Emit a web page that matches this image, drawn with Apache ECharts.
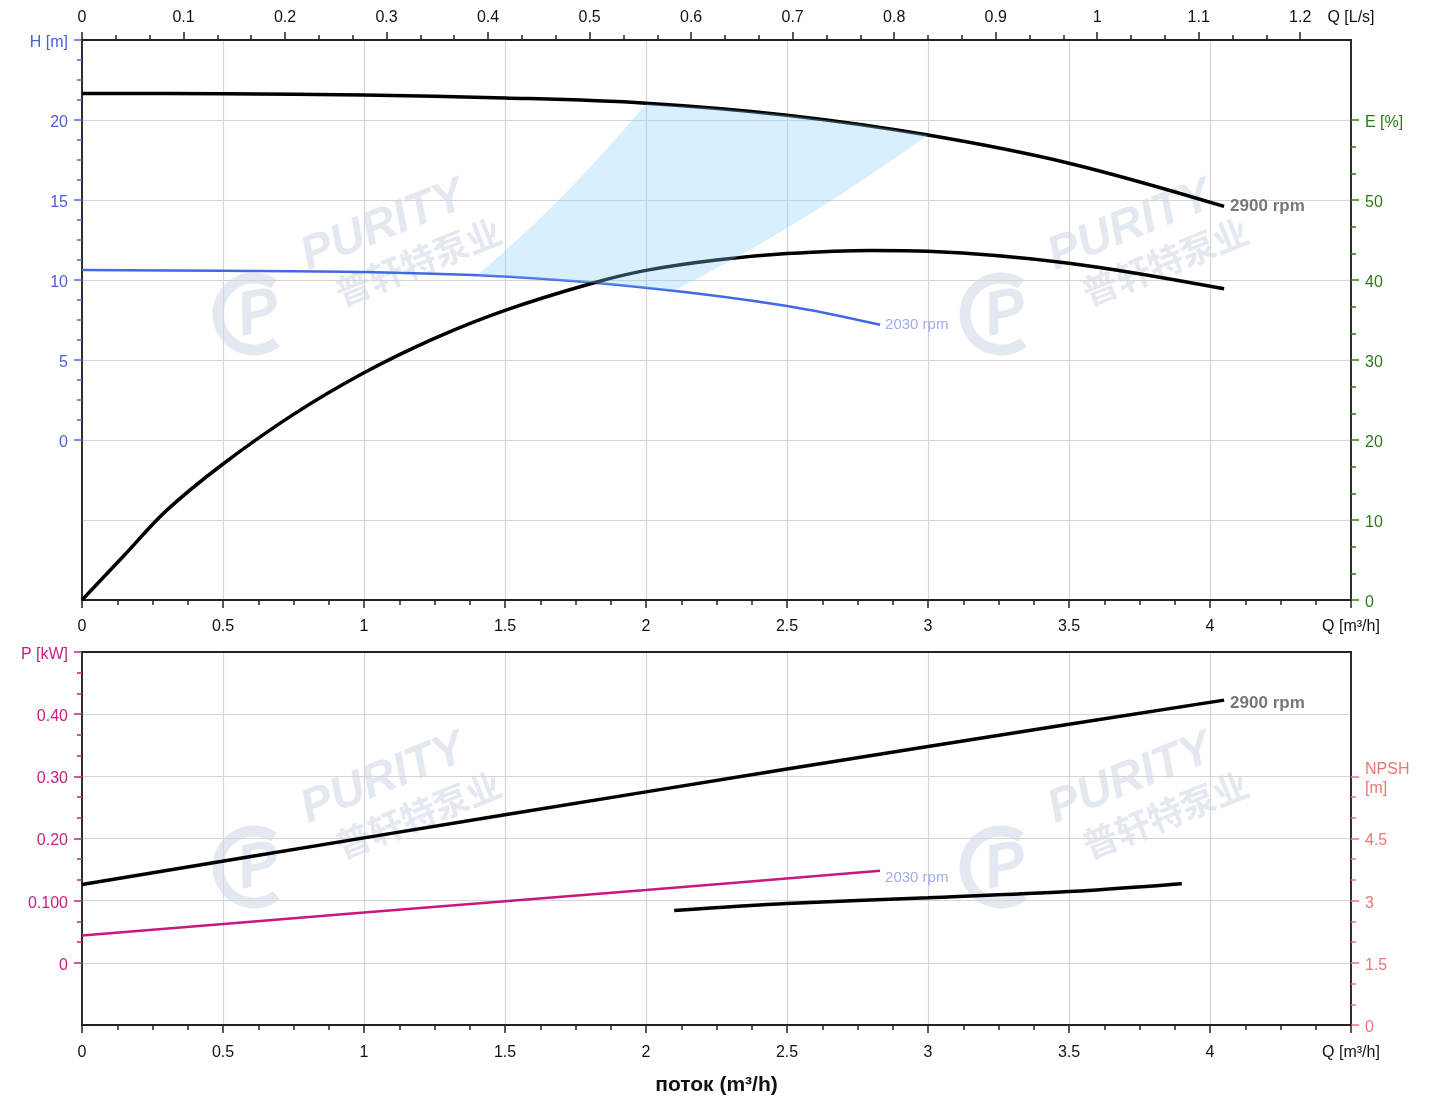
<!DOCTYPE html>
<html>
<head>
<meta charset="utf-8">
<script src="https://cdn.jsdelivr.net/npm/echarts@6/dist/echarts.min.js"></script>
<style>html,body{margin:0;padding:0;background:#fff;}#c{width:1429px;height:1101px;}</style>
</head>
<body>
<div id="c"></div>
<script>
// ---------- data ----------
const qHead2900 = [0, 0.5, 1, 1.5, 2, 2.5, 3, 3.5, 4.05];
const head2900  = [21.66, 21.64, 21.56, 21.38, 21.05, 20.3, 19.06, 17.3, 14.6];

const qHead2030 = [0, 0.5, 1, 1.5, 2, 2.5, 2.83];
const head2030  = [10.62, 10.58, 10.5, 10.22, 9.52, 8.38, 7.2];

const qEff2900 = [0, 0.15, 0.3, 0.5, 0.75, 1, 1.25, 1.5, 1.8, 2, 2.25, 2.5, 2.8, 3, 3.5, 4.05];
const eff2900  = [0, 5.6, 11.2, 17.0, 23.2, 28.4, 32.7, 36.2, 39.5, 41.2, 42.5, 43.3, 43.7, 43.6, 42.1, 38.9];

const qPower2900 = [0, 1, 2, 3, 4.05];
const power2900  = [0.126, 0.201, 0.275, 0.348, 0.4226];

const qPower2030 = [0, 1, 2, 2.83];
const power2030  = [0.044, 0.081, 0.117, 0.148];

const qNpsh = [2.1, 2.5, 3, 3.5, 3.9];
const npsh  = [2.76, 2.93, 3.07, 3.22, 3.41];

// operating range (shaded), Q [m3/h] / H [m]
const shadeQ = [1.4, 1.5, 1.6, 1.7, 1.8, 1.9, 2.0, 2.25, 2.5, 2.75, 3.0, 2.9, 2.8, 2.7, 2.6, 2.5, 2.4, 2.3, 2.2, 2.1, 2.0, 1.9, 1.8, 1.7, 1.6, 1.5];
const shadeH = [10.29, 11.81, 13.44, 15.17, 17.01, 18.95, 21.0, 20.72, 20.3, 19.75, 19.06, 17.83, 16.62, 15.45, 14.33, 13.25, 12.21, 11.21, 10.26, 9.35, 9.52, 9.68, 9.83, 9.97, 10.1, 10.22];

// tick labels
const lsTickVals   = [0, 0.1, 0.2, 0.3, 0.4, 0.5, 0.6, 0.7, 0.8, 0.9, 1, 1.1, 1.2, 1.25];
const lsTickLabels = ['0','0.1','0.2','0.3','0.4','0.5','0.6','0.7','0.8','0.9','1','1.1','1.2','Q [L/s]'];
const hTickVals    = [0, 5, 10, 15, 20, 25];
const hTickLabels  = ['0','5','10','15','20','H [m]'];
const eTickVals    = [0, 10, 20, 30, 40, 50, 60];
const eTickLabels  = ['0','10','20','30','40','50','E [%]'];
const pTickVals    = [0, 0.1, 0.2, 0.3, 0.4, 0.5];
const pTickLabels  = ['0','0.100','0.20','0.30','0.40','P [kW]'];
const nTickVals    = [0, 1.5, 3, 4.5, 6];
const nTickLabels  = ['0','1.5','3','4.5','NPSH\n[m]'];

// ---------- helpers ----------
function pairs(xs, ys){ return xs.map((x,i)=>[x, ys[i]]); }
function lookup(vals, labels){
  return v => { const i = vals.findIndex(t => Math.abs(t - v) < 1e-6); return i >= 0 ? labels[i] : ''; };
}
function lookupRich(vals, labels){
  const f = lookup(vals, labels);
  return v => f(v).split('\n').map(s => '{a|' + s + '}').join('\n');
}
function minors(lo, hi, step, majors){
  const out = [];
  const n = Math.round((hi - lo) / step);
  for (let i = 0; i <= n; i++) {
    const v = +(lo + i * step).toFixed(6);
    if (!majors.some(m => Math.abs(m - v) < 1e-6)) out.push(v);
  }
  return out;
}
const lsMajor = lsTickVals.slice(0, 13);
const lsMinor = minors(0, 1.2, 1/30, lsMajor);
const hMinor = minors(0, 25, 1.25, hTickVals);
const eMinor = minors(0, 60, 10/3, eTickVals);
const pMinor = minors(0, 0.5, 0.1/3, pTickVals);
const nMinor = minors(0, 6, 0.5, nTickVals);

const BORDER = '#222';
const GRIDC = '#d4d4d4';
const BLUE = '#4a5ce5';
const GREEN = '#2a7a1a';
const MAG = '#c71f7f';
const SALMON = '#f07474';
const FONT = '"Liberation Sans", Arial, sans-serif';
const FS = 16;

function mainY(grid, pos, min, max, vals, labels, color){
  return {
    type:'value', gridIndex:grid, position:pos, min, max,
    axisLine:{show:true, onZero:false, lineStyle:{color:BORDER, width:1.5}},
    axisTick:{show:true, customValues:vals, length:8, lineStyle:{color, width:1.5}},
    axisLabel:{show:true, customValues:vals, formatter:lookupRich(vals, labels), color, fontSize:FS, margin:14, fontFamily:FONT,
      rich:{a:{color, fontSize:FS, fontFamily:FONT, lineHeight:19, padding:[5,0,0,0]}}},
    splitLine:{show:false}
  };
}
function minorY(grid, pos, min, max, vals, color){
  return {
    type:'value', gridIndex:grid, position:pos, min, max,
    axisLine:{show:false, onZero:false},
    axisTick:{show:true, customValues:vals, length:5, lineStyle:{color, width:1.5}},
    axisLabel:{show:false},
    splitLine:{show:false}
  };
}
function gridY(grid, min, max, interval){
  return {
    type:'value', gridIndex:grid, position:'left', min, max, interval,
    axisLine:{show:false, onZero:false}, axisTick:{show:false}, axisLabel:{show:false},
    splitLine:{show:true, showMinLine:false, showMaxLine:false, lineStyle:{color:GRIDC, width:1.2}}
  };
}
function qAxis(grid, margin, extra){
  return Object.assign({
    type:'value', gridIndex:grid, position:'bottom', min:0, max:4.5, interval:0.5,
    axisLine:{show:true, onZero:false, lineStyle:{color:BORDER, width:2}},
    axisTick:{show:true, length:8, lineStyle:{color:BORDER, width:1.5}},
    minorTick:{show:true, splitNumber:4, length:5, lineStyle:{color:BORDER, width:1.5}},
    axisLabel:{show:true, showMinLabel:true, showMaxLabel:true, fontSize:FS, color:'#111', margin, fontFamily:FONT,
      formatter: v => Math.abs(v - 4.5) < 1e-6 ? 'Q [m³/h]' : String(v)},
    splitLine:{show:true, showMinLine:false, showMaxLine:false, lineStyle:{color:GRIDC, width:1.2}}
  }, extra || {});
}

const wmColor = 'rgba(180,192,215,0.36)';
function watermark(x, y){
  return [
    {type:'group', x, y, rotation:0.38, silent:true, z:1, children:[
      {type:'text', x:0, y:0, style:{text:'PURITY', font:'italic 900 47px "Liberation Sans", Arial', fill:wmColor, verticalAlign:'bottom'}},
      {type:'text', x:18, y:40, style:{text:'普轩特泵业', font:'bold 35px "Noto Sans CJK SC"', fill:wmColor, verticalAlign:'bottom'}}
    ]},
    {type:'group', x:x-58, y:y+34, rotation:0.2, silent:true, z:1, children:[
      {type:'arc', shape:{cx:0, cy:0, r:36, startAngle:Math.PI*0.35, endAngle:Math.PI*1.75}, style:{fill:'none', stroke:wmColor, lineWidth:11}},
      {type:'text', x:4, y:2, style:{text:'P', font:'italic bold 62px "Liberation Sans", Arial', fill:wmColor, align:'center', verticalAlign:'middle'}}
    ]}
  ];
}

const chart = echarts.init(document.getElementById('c'), null, {renderer:'canvas'});
chart.setOption({
  animation:false,
  backgroundColor:'#fff',
  textStyle:{fontFamily:FONT},
  grid:[
    {left:82, top:40, width:1269, height:560, show:true, borderColor:BORDER, borderWidth:1.5, backgroundColor:'transparent'},
    {left:82, top:652, width:1269, height:373, show:true, borderColor:BORDER, borderWidth:1.5, backgroundColor:'transparent'}
  ],
  graphic: [].concat(watermark(312, 280), watermark(1059, 280), watermark(312, 833), watermark(1059, 833)),
  xAxis:[
    qAxis(0, 19),
    { // L/s (top)
      type:'value', gridIndex:0, position:'top', min:0, max:1.25,
      axisLine:{show:true, onZero:false, lineStyle:{color:BORDER, width:2}},
      axisTick:{show:true, customValues:lsMajor, length:8, lineStyle:{color:BORDER, width:1.5}},
      axisLabel:{show:true, customValues:lsTickVals, formatter:lookup(lsTickVals, lsTickLabels), fontSize:FS, color:'#111', margin:14, fontFamily:FONT},
      splitLine:{show:false}
    },
    {
      type:'value', gridIndex:0, position:'top', min:0, max:1.25,
      axisLine:{show:false, onZero:false},
      axisTick:{show:true, customValues:lsMinor, length:5, lineStyle:{color:BORDER, width:1.5}},
      axisLabel:{show:false}, splitLine:{show:false}
    },
    qAxis(1, 20, {name:'поток (m³/h)', nameLocation:'middle', nameGap:50,
      nameTextStyle:{fontSize:21, fontWeight:'bold', color:'#111', fontFamily:FONT}}),
    {
      type:'value', gridIndex:1, position:'top', min:0, max:4.5,
      axisLine:{show:true, onZero:false, lineStyle:{color:BORDER, width:2}},
      axisTick:{show:false}, axisLabel:{show:false}, splitLine:{show:false}
    }
  ],
  yAxis:[
    mainY(0, 'left', -10, 25, hTickVals, hTickLabels, BLUE),      // 0
    minorY(0, 'left', -10, 25, hMinor, BLUE),                      // 1
    mainY(0, 'right', 0, 70, eTickVals, eTickLabels, GREEN),       // 2
    minorY(0, 'right', 0, 70, eMinor, GREEN),                      // 3
    gridY(0, -10, 25, 5),                                          // 4
    mainY(1, 'left', -0.1, 0.5, pTickVals, pTickLabels, MAG),      // 5
    minorY(1, 'left', -0.1, 0.5, pMinor, MAG),                     // 6
    mainY(1, 'right', 0, 9, nTickVals, nTickLabels, SALMON),       // 7
    minorY(1, 'right', 0, 9, nMinor, SALMON),                      // 8
    gridY(1, -1, 5, 1)                                             // 9
  ],
  series:[
    {type:'line', name:'H 2900', xAxisIndex:0, yAxisIndex:0, data:pairs(qHead2900, head2900), smooth:0.35, symbol:'none', z:3,
      lineStyle:{color:'#000', width:3.5},
      endLabel:{show:true, formatter:'2900 rpm', color:'#777', fontWeight:'bold', fontSize:17, distance:6, fontFamily:FONT}},
    {type:'line', name:'H 2030', xAxisIndex:0, yAxisIndex:0, data:pairs(qHead2030, head2030), smooth:0.35, symbol:'none', z:3,
      lineStyle:{color:'#4169e1', width:2.5},
      endLabel:{show:true, formatter:'2030 rpm', color:'#a2acf0', fontSize:15, distance:5, fontFamily:FONT}},
    {type:'line', name:'E 2900', xAxisIndex:0, yAxisIndex:2, data:pairs(qEff2900, eff2900), smooth:0.35, symbol:'none', z:3,
      lineStyle:{color:'#000', width:3.5}},
    {type:'custom', name:'range', xAxisIndex:0, yAxisIndex:0, z:4, silent:true, data:[[0,0]],
      renderItem:(params, api) => ({
        type:'polygon',
        shape:{points: shadeQ.map((q,i) => api.coord([q, shadeH[i]]))},
        style:{fill:'rgba(135,206,250,0.32)'}
      })},
    {type:'line', name:'P 2900', xAxisIndex:3, yAxisIndex:5, data:pairs(qPower2900, power2900), smooth:0.3, symbol:'none', z:3,
      lineStyle:{color:'#000', width:3.5},
      endLabel:{show:true, formatter:'2900 rpm', color:'#777', fontWeight:'bold', fontSize:17, distance:6, offset:[0,3], fontFamily:FONT}},
    {type:'line', name:'P 2030', xAxisIndex:3, yAxisIndex:5, data:pairs(qPower2030, power2030), smooth:0.3, symbol:'none', z:3,
      lineStyle:{color:'#c8177f', width:2.5},
      endLabel:{show:true, formatter:'2030 rpm', color:'#a2acf0', fontSize:15, distance:5, offset:[0,7], fontFamily:FONT}},
    {type:'line', name:'NPSH', xAxisIndex:3, yAxisIndex:7, data:pairs(qNpsh, npsh), smooth:0.3, symbol:'none', z:3,
      lineStyle:{color:'#000', width:3.5}}
  ]
});
</script>
</body>
</html>
